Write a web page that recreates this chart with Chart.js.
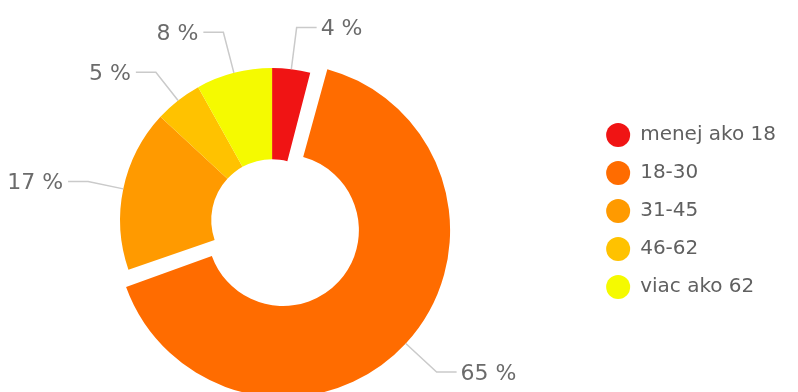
<!DOCTYPE html>
<html>
<head>
<meta charset="utf-8">
<script src="https://cdn.jsdelivr.net/npm/chart.js@4.4.0/dist/chart.umd.min.js"></script>
<style>
  html, body { margin: 0; padding: 0; background: #fff; overflow: hidden; }
  #wrap { width: 842px; height: 392px; position: relative; margin-left: -44px; }
</style>
</head>
<body>
<div id="wrap"><canvas id="ageChart"></canvas></div>
<script>
// age groups and their share in percent
const categories = ["menej ako 18", "18-30", "31-45", "46-62", "viac ako 62"];
const shares = [4, 65, 17, 5, 8];
const percentLabels = shares.map((v) => v + " %");

// outside labels with grey leader lines
const calloutLabels = {
  id: "calloutLabels",
  afterDatasetsDraw(chart) {
    const { ctx } = chart;
    const meta = chart.getDatasetMeta(0);
    ctx.save();
    meta.data.forEach((arc, i) => {
      const { x, y, startAngle, endAngle, outerRadius, circumference } = arc.getProps(
        ["x", "y", "startAngle", "endAngle", "outerRadius", "circumference"], true);
      const mid = (startAngle + endAngle) / 2;
      // same shift the arc element uses for its offset
      const off = (arc.options.offset || 0) / 4;
      const fix = 1 - Math.sin(Math.min(Math.PI, circumference || 0));
      const shift = off + off * fix;
      const cx = x + Math.cos(mid) * shift;
      const cy = y + Math.sin(mid) * shift;
      const s = Math.sin(mid);
      const ext = s > 0.5 || s < -0.9 ? 42 : 36;
      const x0 = cx + Math.cos(mid) * outerRadius;
      const y0 = cy + s * outerRadius;
      const x1 = cx + Math.cos(mid) * (outerRadius + ext);
      const y1 = cy + s * (outerRadius + ext);
      const right = Math.cos(mid) >= 0;
      const x2 = x1 + (right ? 20 : -20);

      ctx.strokeStyle = "#cacaca";
      ctx.lineWidth = 1.5;
      ctx.beginPath();
      ctx.moveTo(x0, y0);
      ctx.lineTo(x1, y1);
      ctx.lineTo(x2, y1);
      ctx.stroke();

      ctx.fillStyle = "#6b6b6b";
      ctx.font = "22px 'DejaVu Sans'";
      ctx.textAlign = right ? "left" : "right";
      ctx.textBaseline = "middle";
      ctx.fillText(percentLabels[i], x2 + (right ? 4 : -5), y1 + 2);
    });
    ctx.restore();
  },
};

function ageChart() {
  const data = {
    labels: categories,
    datasets: [
      {
        data: shares,
        backgroundColor: ["#f01414", "#ff6c00", "#ff9a00", "#ffc200", "#f5fa00"],
        borderWidth: 0,
        offset: (c) => (c.dataIndex === 1 ? 60 : 0),
        hoverOffset: 0,
        clip: false,
      },
    ],
  };

  const config = {
    type: "doughnut",
    data: data,
    plugins: [calloutLabels],
    options: {
      responsive: true,
      maintainAspectRatio: false,
      animation: false,
      radius: 152,
      cutout: "40%",
      layout: {
        padding: { left: 0, right: 12, top: 107, bottom: 59 },
      },
      plugins: {
        tooltip: { enabled: false },
        legend: {
          position: "right",
          align: "start",
          labels: {
            usePointStyle: true,
            pointStyle: "circle",
            pointStyleWidth: 24,
            boxHeight: 17,
            padding: 18,
            color: "#606060",
            font: { family: "'DejaVu Sans'", size: 20 },
          },
        },
      },
    },
  };

  new Chart(document.getElementById("ageChart"), config);
}

ageChart();
</script>
</body>
</html>
